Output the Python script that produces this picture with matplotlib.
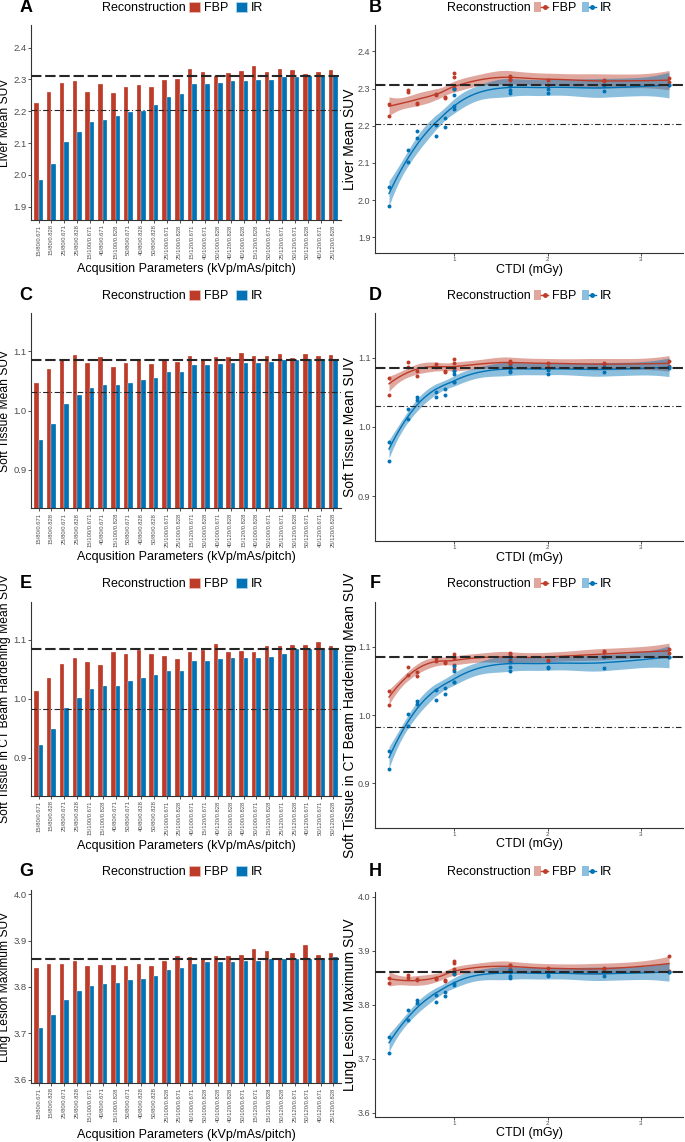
import numpy as np
import matplotlib
matplotlib.use('Agg')
import matplotlib.pyplot as plt
from matplotlib.patches import Patch
from matplotlib.lines import Line2D
from matplotlib.legend_handler import HandlerTuple

plt.rcParams['font.family'] = ['Liberation Sans', 'DejaVu Sans']

FBP_COL = '#BC3C29'
IR_COL = '#0072B5'
TXT = '#4D4D4D'

# CTDI (mGy) of each mAs/kVp setting
ctdi = {'15/80': 0.3, '25/80': 0.5, '15/100': 0.6, '40/80': 0.8, '50/80': 0.9,
        '25/100': 1.0, '15/120': 1.0, '40/100': 1.6, '25/120': 1.6,
        '50/100': 2.0, '40/120': 2.6, '50/120': 3.3}

# ---- liver
liver_labels = ['15/80/0.671', '15/80/0.828', '25/80/0.671', '25/80/0.828', '15/100/0.671', '40/80/0.671',
                '15/100/0.828', '50/80/0.671', '40/80/0.828', '50/80/0.828', '25/100/0.671', '25/100/0.828',
                '15/120/0.671', '40/100/0.671', '50/100/0.828', '40/120/0.828', '40/100/0.828', '15/120/0.828',
                '50/100/0.671', '25/120/0.671', '50/120/0.671', '50/120/0.828', '40/120/0.671', '25/120/0.828']
liver_fbp = [2.227, 2.259, 2.290, 2.296, 2.261, 2.286, 2.258, 2.276, 2.282, 2.277, 2.298, 2.301,
             2.332, 2.323, 2.311, 2.321, 2.327, 2.342, 2.323, 2.334, 2.328, 2.317, 2.323, 2.330]
liver_ir = [1.984, 2.035, 2.102, 2.136, 2.166, 2.173, 2.185, 2.198, 2.202, 2.220, 2.245, 2.254,
            2.284, 2.287, 2.288, 2.294, 2.295, 2.298, 2.298, 2.306, 2.309, 2.310, 2.310, 2.310]
liver_ref = [2.310, 2.204]

# ---- soft tissue
soft_labels = ['15/80/0.671', '15/80/0.828', '25/80/0.671', '25/80/0.828', '15/100/0.671', '40/80/0.671',
               '15/100/0.828', '50/80/0.671', '40/80/0.828', '50/80/0.828', '25/100/0.671', '25/100/0.828',
               '15/120/0.671', '50/100/0.828', '40/100/0.671', '40/120/0.828', '15/120/0.828', '40/100/0.828',
               '50/100/0.671', '25/120/0.671', '50/120/0.828', '50/120/0.671', '40/120/0.671', '25/120/0.828']
soft_fbp = [1.047, 1.071, 1.087, 1.094, 1.081, 1.091, 1.074, 1.081, 1.087, 1.079, 1.085, 1.082,
            1.093, 1.087, 1.091, 1.091, 1.098, 1.092, 1.092, 1.096, 1.089, 1.095, 1.092, 1.094]
soft_ir = [0.951, 0.978, 1.011, 1.026, 1.039, 1.043, 1.043, 1.047, 1.051, 1.055, 1.065, 1.065,
           1.077, 1.077, 1.079, 1.080, 1.081, 1.081, 1.083, 1.085, 1.086, 1.087, 1.087, 1.087]
soft_ref = [1.086, 1.031]

# ---- soft tissue, beam hardening
bh_labels = ['15/80/0.671', '15/80/0.828', '25/80/0.671', '25/80/0.828', '15/100/0.671', '15/100/0.828',
             '40/80/0.671', '50/80/0.671', '40/80/0.828', '50/80/0.828', '25/100/0.671', '25/100/0.828',
             '40/100/0.671', '15/120/0.671', '40/120/0.828', '50/100/0.828', '40/100/0.828', '50/100/0.671',
             '15/120/0.828', '25/120/0.671', '25/120/0.828', '40/120/0.671', '50/120/0.671', '50/120/0.828']
bh_fbp = [1.014, 1.035, 1.059, 1.070, 1.063, 1.057, 1.079, 1.077, 1.083, 1.076, 1.073, 1.067,
          1.079, 1.083, 1.093, 1.079, 1.081, 1.080, 1.089, 1.089, 1.091, 1.092, 1.096, 1.090]
bh_ir = [0.921, 0.948, 0.984, 1.002, 1.016, 1.021, 1.022, 1.031, 1.036, 1.040, 1.048, 1.048,
         1.064, 1.064, 1.068, 1.069, 1.070, 1.070, 1.071, 1.077, 1.085, 1.085, 1.085, 1.085]
bh_ref = [1.085, 0.983]

# ---- lung lesion
lung_labels = ['15/80/0.671', '15/80/0.828', '25/80/0.671', '25/80/0.828', '15/100/0.671', '40/80/0.671',
               '15/100/0.828', '50/80/0.671', '40/80/0.828', '50/80/0.828', '25/100/0.828', '25/100/0.671',
               '40/100/0.671', '50/100/0.828', '40/100/0.828', '40/120/0.828', '50/100/0.671', '15/120/0.671',
               '15/120/0.828', '50/120/0.828', '25/120/0.671', '50/120/0.671', '40/120/0.671', '25/120/0.828']
lung_fbp = [3.841, 3.849, 3.849, 3.856, 3.846, 3.848, 3.848, 3.845, 3.849, 3.846, 3.857, 3.867,
            3.865, 3.861, 3.866, 3.866, 3.868, 3.881, 3.878, 3.862, 3.874, 3.891, 3.868, 3.874]
lung_ir = [3.711, 3.740, 3.772, 3.791, 3.803, 3.806, 3.809, 3.816, 3.818, 3.824, 3.837, 3.841,
           3.849, 3.854, 3.854, 3.854, 3.856, 3.857, 3.861, 3.861, 3.861, 3.861, 3.861, 3.865]
lung_ref = [3.861]

rows = [
    ('Liver Mean SUV', liver_labels, liver_fbp, liver_ir, liver_ref, (1.858, 2.471), [1.9, 2.0, 2.1, 2.2, 2.3, 2.4]),
    ('Soft Tissue Mean SUV', soft_labels, soft_fbp, soft_ir, soft_ref, (0.835, 1.165), [0.9, 1.0, 1.1]),
    ('Soft Tissue in CT Beam Hardening Mean SUV', bh_labels, bh_fbp, bh_ir, bh_ref, (0.835, 1.165), [0.9, 1.0, 1.1]),
    ('Lung Lesion Maximum SUV', lung_labels, lung_fbp, lung_ir, lung_ref, (3.593, 4.009), [3.6, 3.7, 3.8, 3.9, 4.0]),
]
letters = ['A', 'B', 'C', 'D', 'E', 'F', 'G', 'H']


def kd_vertices(xs, fc):
    # 1-d version of the kd-tree cell splitting used by R's loess
    xs = np.sort(np.asarray(xs, float))
    marg = 0.005 * (xs[-1] - xs[0])
    lo0, hi0 = xs[0] - marg, xs[-1] + marg
    verts = {lo0, hi0}

    def split(lo, hi, last):
        pts = xs[(xs >= lo) & ((xs < hi) | (last & (xs <= hi)))]
        if len(pts) <= fc:
            return
        k = len(pts) // 2
        v = (pts[k - 1] + pts[k]) / 2
        if v <= lo or v >= hi:
            return
        verts.add(v)
        split(lo, v, False)
        split(v, hi, last)

    split(lo0, hi0, True)
    return np.array(sorted(verts))


def loess(x, y, grid, span=0.75):
    # local quadratic fit with tricube weights (ggplot geom_smooth default)
    x = np.asarray(x, float)
    y = np.asarray(y, float)
    n = len(x)
    q = int(np.floor(n * span))

    def rows_at(x0):
        d = np.abs(x - x0)
        h = np.sort(d)[q - 1] * 1.0001
        u = np.clip(d / h, 0, 1)
        w = (1 - u ** 3) ** 3
        X = np.column_stack([np.ones(n), x - x0, (x - x0) ** 2])
        XtW = X.T * w
        S = np.linalg.solve(XtW @ X, XtW)
        return S[0], S[1]

    vt = kd_vertices(x, int(np.floor(n * span * 0.2)))
    V0, V1 = zip(*[rows_at(v) for v in vt])
    V0, V1 = np.array(V0), np.array(V1)

    def interp_rows(pts):
        out = []
        for p in pts:
            j = min(max(np.searchsorted(vt, p) - 1, 0), len(vt) - 2)
            hh = vt[j + 1] - vt[j]
            t = (p - vt[j]) / hh
            h00 = 2 * t ** 3 - 3 * t ** 2 + 1
            h10 = t ** 3 - 2 * t ** 2 + t
            h01 = -2 * t ** 3 + 3 * t ** 2
            h11 = t ** 3 - t ** 2
            out.append(h00 * V0[j] + h10 * hh * V1[j] + h01 * V0[j + 1] + h11 * hh * V1[j + 1])
        return np.array(out)

    L = interp_rows(x)
    G = interp_rows(grid)
    fit = G @ y
    M = np.eye(n) - L
    MM = M.T @ M
    d1 = np.trace(MM)
    d2 = np.trace(MM @ MM)
    sigma = np.sqrt(np.sum((M @ y) ** 2) / d1)
    df = d1 ** 2 / d2
    se = sigma * np.sqrt(np.sum(G ** 2, axis=1))
    z = 1.959964
    t = z + (z ** 3 + z) / (4 * df) + (5 * z ** 5 + 16 * z ** 3 + 3 * z) / (96 * df ** 2)
    return fit, fit - t * se, fit + t * se


def style(ax):
    for s in ['top', 'right']:
        ax.spines[s].set_visible(False)
    for s in ['left', 'bottom']:
        ax.spines[s].set_color('#333333')
        ax.spines[s].set_linewidth(0.8)
    ax.tick_params(colors='#333333', length=2, width=0.6, pad=1.2, labelcolor=TXT)


def ref_lines(ax, ref):
    ax.axhline(ref[0], color='#262626', lw=1.5, dashes=(5, 1.8), zorder=4)
    if len(ref) > 1:
        ax.axhline(ref[1], color='#262626', lw=0.8, dashes=(5, 2.2, 1, 2.2), zorder=4)


fig = plt.figure(figsize=(6.85, 11.42), dpi=100)
W, H = 685.0, 1142.0

bar_rects = [(31, 25, 341, 220), (31, 313, 341, 508.3), (31, 601.7, 341, 796), (31, 890, 341, 1083)]
sc_rects = [(375, 25, 683, 253), (375, 313, 683, 541), (375, 602, 683, 828), (375, 892, 683, 1116.7)]
row_y = [8, 296, 584, 872]
bar_xlab = [0.222, 0.217, 0.228, 0.238]
sc_xlab = [0.05, 0.048, 0.046, 0.046]

for i, (ylab, labels, fbp, ir, ref, ylim, yt) in enumerate(rows):
    # ---------- bar panel
    l, t, r, b = bar_rects[i]
    ax = fig.add_axes([l / W, 1 - b / H, (r - l) / W, (b - t) / H])
    x = np.arange(len(labels))
    ax.bar(x - 0.175, fbp, 0.35, color=FBP_COL, edgecolor='white', linewidth=0.2)
    ax.bar(x + 0.175, ir, 0.35, color=IR_COL, edgecolor='white', linewidth=0.2)
    ref_lines(ax, ref)
    ax.set_xlim(-0.6, len(labels) - 0.4)
    ax.set_ylim(*ylim)
    ax.set_yticks(yt)
    ax.set_yticklabels(['%.1f' % v for v in yt], fontsize=6.8)
    ax.set_xticks(x)
    ax.set_xticklabels(labels, rotation=90, fontsize=4.2)
    style(ax)
    ax.set_ylabel(ylab, fontsize=8.7)
    ax.yaxis.set_label_coords(-0.066, 0.5)
    ax.set_xlabel('Acqusition Parameters (kVp/mAs/pitch)', fontsize=9)
    ax.xaxis.set_label_coords(0.5, -bar_xlab[i])

    fig.text(26 / W, 1 - row_y[i] / H, letters[2 * i], fontsize=13, fontweight='bold',
             ha='center', va='center')
    fig.text(102 / W, 1 - row_y[i] / H, 'Reconstruction', fontsize=9, ha='left', va='center')
    hs = [Patch(facecolor=FBP_COL, edgecolor='#f0c0b8', lw=0.5),
          Patch(facecolor=IR_COL, edgecolor='#b8d8ee', lw=0.5)]
    fig.legend(hs, ['FBP', 'IR'], loc='center left', bbox_to_anchor=(189 / W, 1 - row_y[i] / H),
               ncol=2, frameon=False, fontsize=9, borderpad=0, borderaxespad=0,
               handlelength=0.9, handleheight=0.9, handletextpad=0.3, columnspacing=0.6)

    # ---------- dose panel
    l, t, r, b = sc_rects[i]
    ax = fig.add_axes([l / W, 1 - b / H, (r - l) / W, (b - t) / H])
    xs = [ctdi[s.rsplit('/', 1)[0]] for s in labels]
    grid = np.linspace(min(xs), max(xs), 80)
    for vals, col in [(fbp, FBP_COL), (ir, IR_COL)]:
        fit, lo, hi = loess(xs, vals, grid)
        ax.fill_between(grid, lo, hi, color=col, alpha=0.45, lw=0, zorder=2)
        ax.plot(grid, fit, color=col, lw=1.0, zorder=3)
        ax.scatter(xs, vals, s=8, color=col, zorder=3, lw=0)
    ref_lines(ax, ref)
    ax.set_xlim(0.15, 3.45)
    ax.set_ylim(*ylim)
    ax.set_yticks(yt)
    ax.set_yticklabels(['%.1f' % v for v in yt], fontsize=6.5)
    ax.set_xticks([1, 2, 3])
    ax.set_xticklabels(['1', '2', '3'], fontsize=4.5)
    style(ax)
    ax.set_ylabel(ylab, fontsize=10)
    ax.yaxis.set_label_coords(-0.058, 0.5)
    ax.set_xlabel('CTDI (mGy)', fontsize=9)
    ax.xaxis.set_label_coords(0.5, -sc_xlab[i])

    fig.text(375 / W, 1 - row_y[i] / H, letters[2 * i + 1], fontsize=13, fontweight='bold',
             ha='center', va='center')
    fig.text(447 / W, 1 - row_y[i] / H, 'Reconstruction', fontsize=9, ha='left', va='center')
    hs = [(Patch(facecolor=FBP_COL, alpha=0.45, lw=0), Line2D([], [], color=FBP_COL, lw=1, marker='o', ms=2.5)),
          (Patch(facecolor=IR_COL, alpha=0.45, lw=0), Line2D([], [], color=IR_COL, lw=1, marker='o', ms=2.5))]
    fig.legend(hs, ['FBP', 'IR'], loc='center left', bbox_to_anchor=(534 / W, 1 - row_y[i] / H),
               ncol=2, frameon=False, fontsize=9, borderpad=0, borderaxespad=0,
               handlelength=1.15, handleheight=0.9, handletextpad=0.3, columnspacing=0.4,
               handler_map={tuple: HandlerTuple(ndivide=None)})

fig.savefig('out.png', dpi=100)
